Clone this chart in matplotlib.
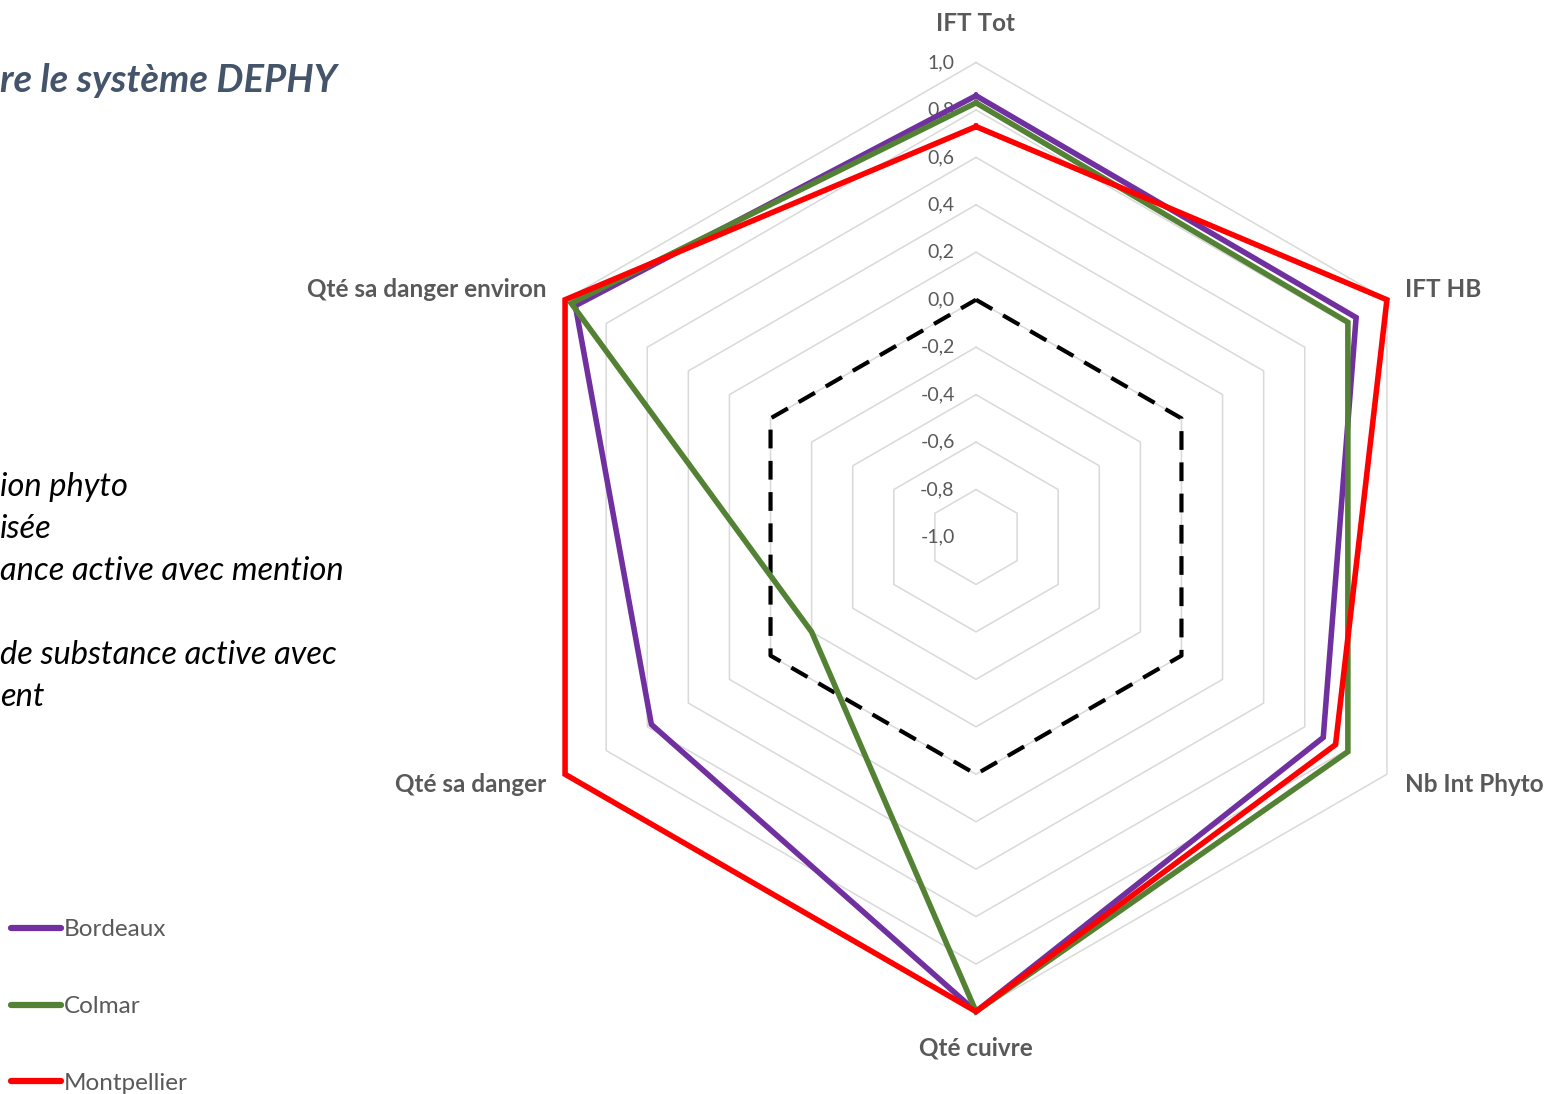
import numpy as np
import matplotlib
matplotlib.use("Agg")
import matplotlib.pyplot as plt
from matplotlib.lines import Line2D

plt.rcParams['font.family'] = ['Lato', 'DejaVu Sans']

# axes of the radar, clockwise from the top
categories = ["IFT Tot", "IFT HB", "Nb Int Phyto", "Qté cuivre",
              "Qté sa danger", "Qté sa danger environ"]

bordeaux = [0.86, 0.85, 0.69, 1.00, 0.58, 0.95]
colmar = [0.83, 0.81, 0.81, 1.00, -0.20, 0.97]
montpellier = [0.73, 1.00, 0.75, 1.00, 1.00, 1.00]
reference = [0.0, 0.0, 0.0, 0.0, 0.0, 0.0]

series_names = ["Bordeaux", "Colmar", "Montpellier"]
series_colors = ["#7030a0", "#548235", "#ff0000"]

grid_levels = [-0.8, -0.6, -0.4, -0.2, 0.0, 0.2, 0.4, 0.6, 0.8, 1.0]
tick_values = [-1.0, -0.8, -0.6, -0.4, -0.2, 0.0, 0.2, 0.4, 0.6, 0.8, 1.0]
r_min = -1.0

side_text = ["ion phyto", "isée", "ance active avec mention",
             "de substance active avec", "ent"]
title_text = "re le système DEPHY"

W, H = 1546, 1094
cx, cy = 976, 537          # centre of the radar, pixels from top-left
unit = 237.25              # pixels per 1.0 of value

angles = np.deg2rad(90 - 60 * np.arange(len(categories)))


def to_xy(values, closed=True):
    r = np.asarray(values, dtype=float) - r_min
    x = r * np.cos(angles)
    y = r * np.sin(angles)
    if closed:
        x = np.append(x, x[0])
        y = np.append(y, y[0])
    return x, y


fig = plt.figure(figsize=(W / 100, H / 100), dpi=100)
ax = fig.add_axes([0, 0, 1, 1])
ax.set_xlim(-cx / unit, (W - cx) / unit)
ax.set_ylim(-(H - cy) / unit, cy / unit)
ax.axis("off")

# hexagonal grid
for lev in grid_levels:
    gx, gy = to_xy([lev] * len(categories))
    ax.plot(gx, gy, color="#d9d9d9", lw=1.1, zorder=1)

# radial tick labels
for t in tick_values:
    ax.text(-0.09, t - r_min, ("%.1f" % t).replace(".", ","), ha="right",
            va="center", fontsize=14, color="#595959", zorder=2)

# zero reference line
rx, ry = to_xy(reference)
ax.plot(rx, ry, color="black", lw=3, linestyle=(0, (4.5, 3)), zorder=3)

handles = []
for vals, name, col in zip([bordeaux, colmar, montpellier], series_names, series_colors):
    sx, sy = to_xy(vals)
    ax.plot(sx, sy, color=col, lw=4, solid_joinstyle="miter", zorder=4)
    handles.append(Line2D([], [], color=col, lw=4.5, solid_capstyle="round"))

# category labels
label_r = [2.165, 2.09, 2.09, 2.155, 2.09, 2.09]
for cat, a, lr in zip(categories, angles, label_r):
    c = np.cos(a)
    if abs(c) < 1e-6:
        ha = "center"
    elif c > 0:
        ha = "left"
    else:
        ha = "right"
    ax.text(lr * np.cos(a), lr * np.sin(a), cat, ha=ha, va="center",
            fontsize=17.5, fontweight="bold", color="#595959")

# text on the left
fig.text(0, 1 - 92 / H, title_text, ha="left", va="baseline", fontsize=27.5,
         fontweight="bold", fontstyle="italic", color="#44546a")
baselines = [496, 538, 580, 664, 706]
for s, b in zip(side_text, baselines):
    fig.text(0, 1 - b / H, s, ha="left", va="baseline", fontsize=23.5,
             fontstyle="italic", color="black")

fig.legend(handles, series_names, loc="lower left",
           bbox_to_anchor=(11 / W, 0.0), frameon=False, fontsize=17.5,
           handlelength=2.05, handletextpad=0.12, labelspacing=2.3,
           borderpad=0, borderaxespad=0, labelcolor="#595959")

fig.savefig("out.png", dpi=100)
